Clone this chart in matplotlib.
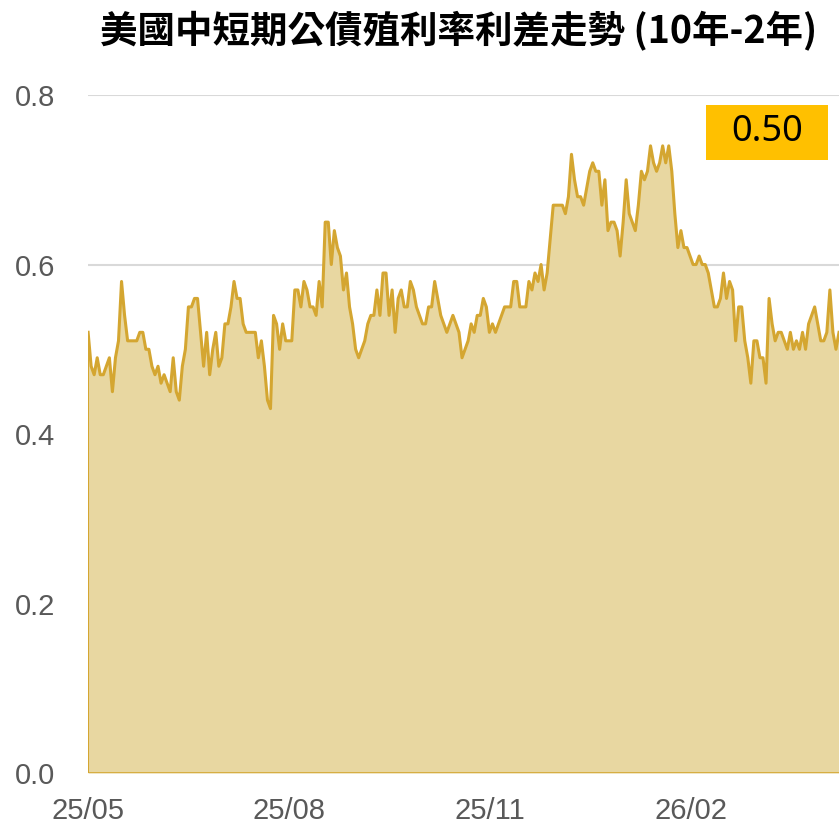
import pandas as pd
import matplotlib.pyplot as plt
from matplotlib.patches import Rectangle

# 10年-2年 利差
spread = [
    0.52, 0.48, 0.47, 0.49, 0.47, 0.47, 0.48, 0.49, 0.45, 0.49, 0.51, 0.58,
    0.54, 0.51, 0.51, 0.51, 0.51, 0.52, 0.52, 0.50, 0.50, 0.48, 0.47, 0.48,
    0.46, 0.47, 0.46, 0.45, 0.49, 0.45, 0.44, 0.48, 0.50, 0.55, 0.55, 0.56,
    0.56, 0.52, 0.48, 0.52, 0.47, 0.50, 0.52, 0.48, 0.49, 0.53, 0.53, 0.55,
    0.58, 0.56, 0.56, 0.53, 0.52, 0.52, 0.52, 0.52, 0.49, 0.51, 0.48, 0.44,
    0.43, 0.54, 0.53, 0.50, 0.53, 0.51, 0.51, 0.51, 0.57, 0.57, 0.55, 0.58,
    0.57, 0.55, 0.55, 0.54, 0.58, 0.55, 0.65, 0.65, 0.60, 0.64, 0.62, 0.61,
    0.57, 0.59, 0.55, 0.53, 0.50, 0.49, 0.50, 0.51, 0.53, 0.54, 0.54, 0.57,
    0.54, 0.59, 0.59, 0.54, 0.57, 0.52, 0.56, 0.57, 0.55, 0.55, 0.58, 0.57,
    0.55, 0.54, 0.53, 0.53, 0.55, 0.55, 0.58, 0.56, 0.54, 0.53, 0.52, 0.53,
    0.54, 0.53, 0.52, 0.49, 0.50, 0.51, 0.53, 0.52, 0.54, 0.54, 0.56, 0.55,
    0.52, 0.53, 0.52, 0.53, 0.54, 0.55, 0.55, 0.55, 0.58, 0.58, 0.55, 0.55,
    0.55, 0.58, 0.57, 0.59, 0.58, 0.60, 0.57, 0.59, 0.63, 0.67, 0.67, 0.67,
    0.67, 0.66, 0.68, 0.73, 0.70, 0.68, 0.68, 0.67, 0.69, 0.71, 0.72, 0.71,
    0.71, 0.67, 0.70, 0.64, 0.65, 0.65, 0.64, 0.61, 0.65, 0.70, 0.66, 0.65,
    0.64, 0.67, 0.71, 0.70, 0.71, 0.74, 0.72, 0.71, 0.72, 0.74, 0.72, 0.74,
    0.71, 0.66, 0.62, 0.64, 0.62, 0.62, 0.61, 0.60, 0.60, 0.61, 0.60, 0.60,
    0.59, 0.57, 0.55, 0.55, 0.56, 0.59, 0.56, 0.58, 0.57, 0.51, 0.55, 0.55,
    0.51, 0.49, 0.46, 0.51, 0.51, 0.49, 0.49, 0.46, 0.56, 0.53, 0.51, 0.52,
    0.52, 0.51, 0.50, 0.52, 0.50, 0.51, 0.50, 0.52, 0.50, 0.53, 0.54, 0.55,
    0.53, 0.51, 0.51, 0.52, 0.57, 0.52, 0.50, 0.52,
]
start_date = "2025-05-01"
end_date = "2026-04-10"
tick_dates = ["2025-05-01", "2025-08-01", "2025-11-01", "2026-02-01"]
tick_labels = ["25/05", "25/08", "25/11", "26/02"]
y_ticks = [0.0, 0.2, 0.4, 0.6, 0.8]
last_label = "0.50"
title = "美國中短期公債殖利率利差走勢 (10年-2年)"

dates = pd.date_range(start_date, end_date, periods=len(spread))

fig = plt.figure(figsize=(8.39, 8.26), dpi=100)
ax = fig.add_axes([0.105, 0.064, 0.895, 0.821])

ax.fill_between(dates, spread, 0, color="#E8D7A1", lw=0, zorder=2)
ax.plot(dates, spread, color="#D4A631", lw=2.2, zorder=3)
ax.plot([dates[0], dates[0]], [0, spread[0]], color="#D4A631", lw=1.5, zorder=3)
ax.axhline(0, color="#D4A631", lw=1.2, zorder=3)

ax.set_xlim(dates[0], dates[-1])
ax.set_ylim(0, 0.8)
ax.set_yticks(y_ticks)
ax.set_yticklabels([f"{v:.1f}" for v in y_ticks])
ax.set_xticks(pd.to_datetime(tick_dates))
ax.set_xticklabels(tick_labels)

ax.grid(axis="y", color="#D9D9D9", lw=1.5, zorder=1)
ax.set_axisbelow(True)
for s in ax.spines.values():
    s.set_visible(False)

tick_font = ["Liberation Sans", "DejaVu Sans"]
ax.tick_params(axis="both", length=0, colors="#595959", labelsize=21)
ax.tick_params(axis="y", pad=24)
ax.tick_params(axis="x", pad=17)
for lab in ax.get_xticklabels() + ax.get_yticklabels():
    lab.set_family(tick_font)

fig.text(0.547, 0.962, title, ha="center", va="center", fontsize=27,
         fontweight="bold", family=["Noto Sans CJK TC", "DejaVu Sans"])

# 最新值標籤
box = Rectangle((0.823, 0.723), 0.162, 0.065, transform=ax.get_yaxis_transform(),
                fc="#FFC000", ec="none", zorder=5, clip_on=False)
ax.add_patch(box)
ax.text(0.904, 0.756, last_label, transform=ax.get_yaxis_transform(),
        ha="center", va="center", fontsize=26, color="black",
        family=["Noto Sans", "DejaVu Sans"], zorder=6)

fig.savefig("out.png", dpi=100)
